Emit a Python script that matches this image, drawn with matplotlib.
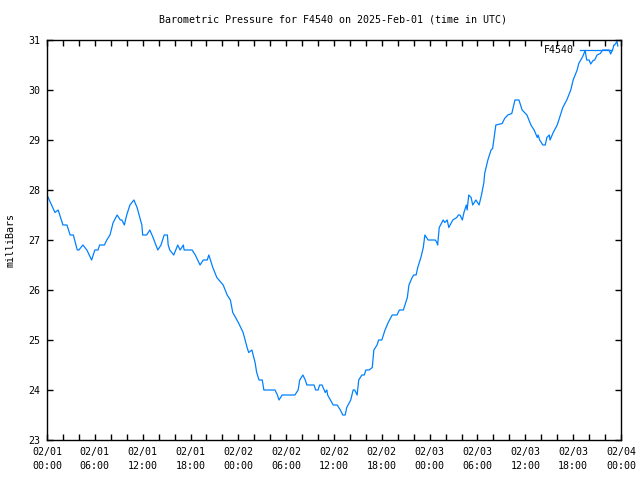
import matplotlib
matplotlib.use('Agg')
import matplotlib.pyplot as plt
from matplotlib.ticker import MultipleLocator

# hours since 2025-02-01 00:00 UTC
hours = [0.0, 1.0, 1.4, 2.0, 2.5, 2.9, 3.3, 3.8, 4.0, 4.5, 5.0, 5.6, 6.0, 6.4, 6.6,
         7.2, 7.5, 7.9, 8.3, 8.8, 9.2, 9.4, 9.7, 10.0, 10.4, 10.9, 11.3, 11.9, 12.0,
         12.5, 12.9, 13.3, 13.9, 14.3, 14.7, 15.1, 15.2, 15.4, 15.9, 16.4, 16.7, 17.1,
         17.2, 18.2, 18.6, 19.2, 19.6, 20.1, 20.3, 20.8, 21.3, 22.1, 22.6, 23.0, 23.3,
         24.0, 24.6, 25.1, 25.3, 25.7, 26.1, 26.3, 26.6, 27.0, 27.2, 28.6, 28.9, 29.1,
         29.5, 31.1, 31.5, 31.7, 32.1, 32.4, 32.6, 33.5, 33.7, 34.0, 34.2, 34.5, 34.9,
         35.1, 35.2, 35.9, 36.4, 36.8, 37.1, 37.4, 37.6, 38.1, 38.4, 38.6, 38.9, 39.1,
         39.5, 39.8, 40.0, 40.4, 40.8, 41.0, 41.4, 41.6, 42.0, 42.4, 42.8, 43.3, 43.9,
         44.2, 44.7, 44.9, 45.2, 45.4, 45.8, 46.0, 46.3, 46.5, 46.9, 47.2, 47.4, 47.8,
         48.7, 48.9, 49.0, 49.2, 49.7, 49.9, 50.2, 50.4, 50.9, 51.4, 51.6, 51.8, 52.1,
         52.3, 52.6, 52.7, 52.9, 53.2, 53.4, 53.8, 54.2, 54.5, 54.8, 54.9, 55.3, 55.7,
         55.9, 56.3, 57.1, 57.4, 57.8, 58.3, 58.7, 59.2, 59.6, 60.2, 60.7, 61.1, 61.5,
         61.6, 61.8, 62.2, 62.5, 62.7, 63.0, 63.1, 63.5, 64.0, 64.2, 64.7, 65.2, 65.7,
         66.0, 66.5, 66.7, 67.2, 67.5, 67.7, 68.0, 68.2, 68.5, 68.7, 69.0, 69.4, 69.7,
         70.5, 70.7, 71.0, 71.1, 71.2, 71.5, 71.6]
pressure = [27.9, 27.55, 27.6, 27.3, 27.3, 27.1, 27.1, 26.8, 26.8, 26.9, 26.8, 26.6, 26.8, 26.8, 26.9,
            26.9, 27.0, 27.1, 27.35, 27.5, 27.4, 27.4, 27.3, 27.5, 27.7, 27.8, 27.65, 27.3, 27.1,
            27.1, 27.2, 27.05, 26.8, 26.9, 27.1, 27.1, 26.9, 26.8, 26.7, 26.9, 26.8, 26.9,
            26.8, 26.8, 26.7, 26.5, 26.6, 26.6, 26.7, 26.45, 26.25, 26.1, 25.9, 25.8, 25.55,
            25.35, 25.15, 24.85, 24.75, 24.8, 24.55, 24.35, 24.2, 24.2, 24.0, 24.0, 23.9, 23.8,
            23.9, 23.9, 24.0, 24.2, 24.3, 24.2, 24.1, 24.1, 24.0, 24.0, 24.1, 24.1, 23.95,
            24.0, 23.9, 23.7, 23.7, 23.6, 23.5, 23.5, 23.65, 23.8, 24.0, 24.0, 23.9, 24.2,
            24.3, 24.3, 24.4, 24.4, 24.45, 24.8, 24.9, 25.0, 25.0, 25.2, 25.35, 25.5, 25.5,
            25.6, 25.6, 25.7, 25.85, 26.1, 26.25, 26.3, 26.3, 26.45, 26.65, 26.85, 27.1, 27.0,
            27.0, 26.95, 26.9, 27.25, 27.4, 27.35, 27.4, 27.25, 27.4, 27.45, 27.5, 27.5, 27.4,
            27.55, 27.7, 27.6, 27.9, 27.85, 27.7, 27.8, 27.7, 27.9, 28.15, 28.33, 28.6, 28.8,
            28.83, 29.3, 29.33, 29.43, 29.5, 29.53, 29.8, 29.8, 29.6, 29.5, 29.3, 29.2, 29.05,
            29.1, 29.0, 28.9, 28.9, 29.05, 29.1, 29.0, 29.15, 29.3, 29.4, 29.65, 29.8, 30.0,
            30.2, 30.4, 30.53, 30.67, 30.79, 30.6, 30.6, 30.52, 30.59, 30.6, 30.7, 30.73, 30.8,
            30.8, 30.72, 30.83, 30.9, 30.9, 30.97, 30.88]

tick_hours = [0, 6, 12, 18, 24, 30, 36, 42, 48, 54, 60, 66, 72]
tick_labels = ['02/01\n00:00', '02/01\n06:00', '02/01\n12:00', '02/01\n18:00',
               '02/02\n00:00', '02/02\n06:00', '02/02\n12:00', '02/02\n18:00',
               '02/03\n00:00', '02/03\n06:00', '02/03\n12:00', '02/03\n18:00',
               '02/04\n00:00']

plt.rcParams['font.family'] = 'DejaVu Sans Mono'
plt.rcParams['font.size'] = 7.2

fig = plt.figure(figsize=(6.4, 4.8), dpi=100)
ax = fig.add_axes([47/640, 1-440/480, 574/640, 400/480])

ax.plot(hours, pressure, color='#0080ff', lw=0.9)

ax.set_xlim(0, 72)
ax.set_ylim(23, 31)
ax.set_xticks(tick_hours)
ax.set_xticklabels(tick_labels, linespacing=1.5)
ax.xaxis.set_minor_locator(MultipleLocator(2))
ax.yaxis.set_major_locator(MultipleLocator(1))
ax.tick_params(which='both', direction='in', top=True, right=True, length=4, width=1, pad=5)
ax.tick_params(axis='y', pad=5)
for s in ax.spines.values():
    s.set_linewidth(1)

ax.set_ylabel('milliBars', labelpad=9)
fig.text(0.52, 1-19/480, 'Barometric Pressure for F4540 on 2025-Feb-01 (time in UTC)',
         ha='center', va='center')

# legend like gnuplot's key
ax.text(0.918, 0.975, 'F4540', transform=ax.transAxes, ha='right', va='center')
ax.plot([0.929, 0.984], [0.975, 0.975], transform=ax.transAxes, color='#0080ff', lw=0.9)

fig.savefig('out.png', dpi=100)
